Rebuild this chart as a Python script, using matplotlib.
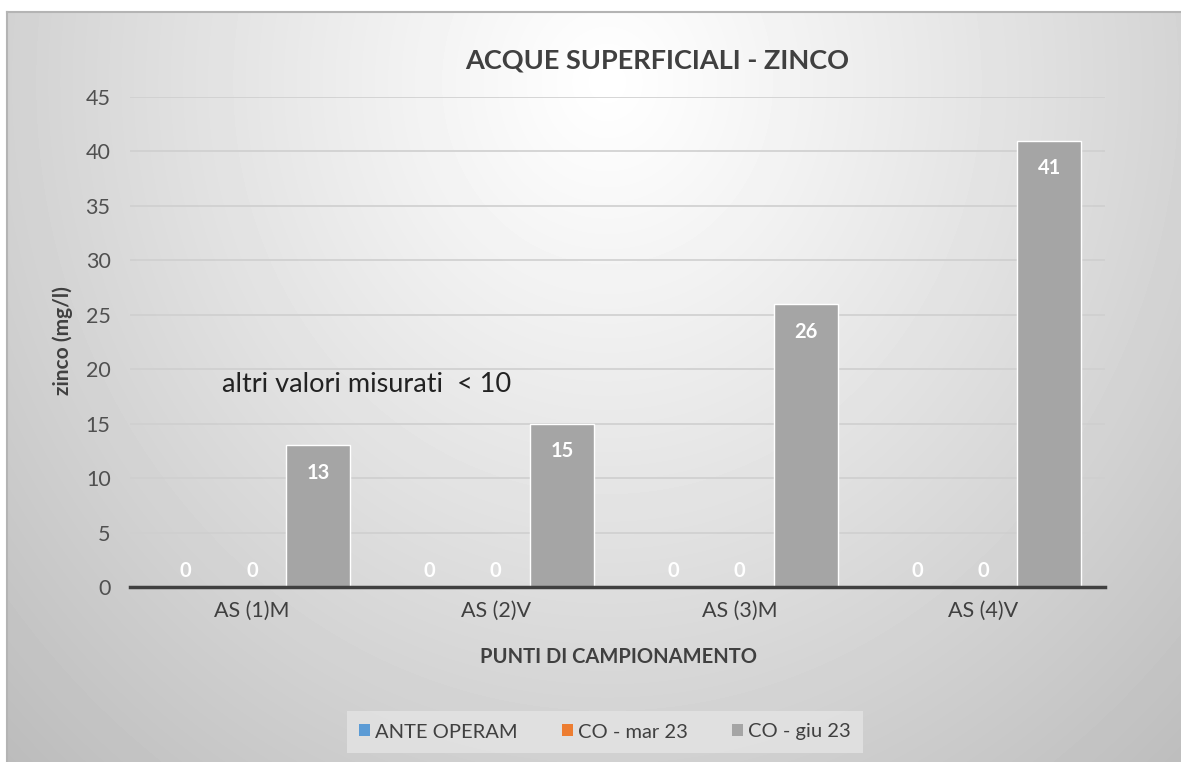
import numpy as np
import matplotlib
matplotlib.use("Agg")
import matplotlib.pyplot as plt
from matplotlib.patches import Patch

categories = ["AS (1)M", "AS (2)V", "AS (3)M", "AS (4)V"]
ante_operam = [0, 0, 0, 0]
co_mar23 = [0, 0, 0, 0]
co_giu23 = [13, 15, 26, 41]
series_names = ["ANTE OPERAM", "CO - mar 23", "CO - giu 23"]
series_colors = ["#5b9bd5", "#ed7d31", "#a5a5a5"]
yticks = [0, 5, 10, 15, 20, 25, 30, 35, 40, 45]

W, H = 1181, 762
fig = plt.figure(figsize=(W / 100, H / 100), dpi=100, facecolor="white")
font = ["Lato", "DejaVu Sans"]

# background of the chart area: radial grey gradient
bg = fig.add_axes([7 / W, 0, 1 - 7 / W, (H - 12) / H])
yy, xx = np.mgrid[0:750, 0:1174]
r = np.sqrt(((xx - 600) / 1.0) ** 2 + ((yy - 70) / 1.1) ** 2)
v = 1 - 0.25 * np.clip(r / 820, 0, 1.2) ** 1.1
bg.imshow(v, cmap="gray", vmin=0, vmax=1, aspect="auto", interpolation="bilinear")
bg.set_xticks([])
bg.set_yticks([])
for side in ["right", "bottom"]:
    bg.spines[side].set_visible(False)
for side in ["top", "left"]:
    bg.spines[side].set_color("#b4b4b4")
    bg.spines[side].set_linewidth(1.5)

ax = fig.add_axes([130 / W, (H - 587) / H, 975 / W, 490 / H])
ax.set_facecolor("none")

x = np.arange(len(categories))
bw = 0.263
step = 0.272
data = [ante_operam, co_mar23, co_giu23]
for i, (vals, name, col) in enumerate(zip(data, series_names, series_colors)):
    bars = ax.bar(x + (i - 1) * step, vals, bw, color=col, edgecolor="white",
                  linewidth=1, zorder=3)
    for b, val in zip(bars, vals):
        off = 11.5 if val == 0 else -20
        ax.annotate(str(val), (b.get_x() + b.get_width() / 2, val),
                    xytext=(0, off), textcoords="offset points",
                    ha="center", va="center", color="white",
                    fontweight="bold", fontsize=14.5, family=font, zorder=4)

ax.set_xlim(-0.5, 3.5)
ax.set_ylim(0, 45)
ax.set_yticks(yticks)
ax.set_xticks(x)
ax.set_xticklabels(categories, fontsize=15.5, color="#404040", family=font)
for lab in ax.get_yticklabels():
    lab.set_fontsize(15.5)
    lab.set_color("#505050")
    lab.set_family(font)
ax.tick_params(length=0, pad=14)
ax.tick_params(axis="x", pad=10)
ax.grid(axis="y", color="#cfcfcf", linewidth=1.2, zorder=0)
for side in ["top", "right", "left"]:
    ax.spines[side].set_visible(False)
ax.spines["bottom"].set_color("#404040")
ax.spines["bottom"].set_linewidth(2.5)
ax.spines["bottom"].set_zorder(5)

fig.text(657 / W, 1 - 61 / H, "ACQUE SUPERFICIALI - ZINCO", ha="center", va="center",
         fontsize=19.5, fontweight="bold", color="#404040", family=font)
fig.text(63 / W, 1 - 341 / H, "zinco (mg/l)", rotation=90, ha="center", va="center",
         fontsize=15, fontweight="bold", color="#404040", family=font)
fig.text(618 / W, 1 - 657 / H, "PUNTI DI CAMPIONAMENTO", ha="center", va="center",
         fontsize=14.5, fontweight="bold", color="#404040", family=font)
fig.text(222 / W, 1 - 385 / H, "altri valori misurati  < 10", ha="left", va="center",
         fontsize=19.5, color="#222222", family=font)

handles = [Patch(facecolor=c, edgecolor="none") for c in series_colors]
leg = fig.legend(handles, series_names, loc="center", bbox_to_anchor=(605 / W, 1 - 732 / H),
                 ncol=3, frameon=True, handlelength=0.55, handleheight=0.55,
                 handletextpad=0.25, columnspacing=2.2, borderpad=0.6,
                 prop={"family": font, "size": 14.5})
leg.get_frame().set_facecolor("#e4e4e4")
leg.get_frame().set_edgecolor("none")
leg.get_frame().set_boxstyle("square", pad=0)
for t in leg.get_texts():
    t.set_color("#404040")

fig.savefig("out.png", dpi=100, facecolor="white")
